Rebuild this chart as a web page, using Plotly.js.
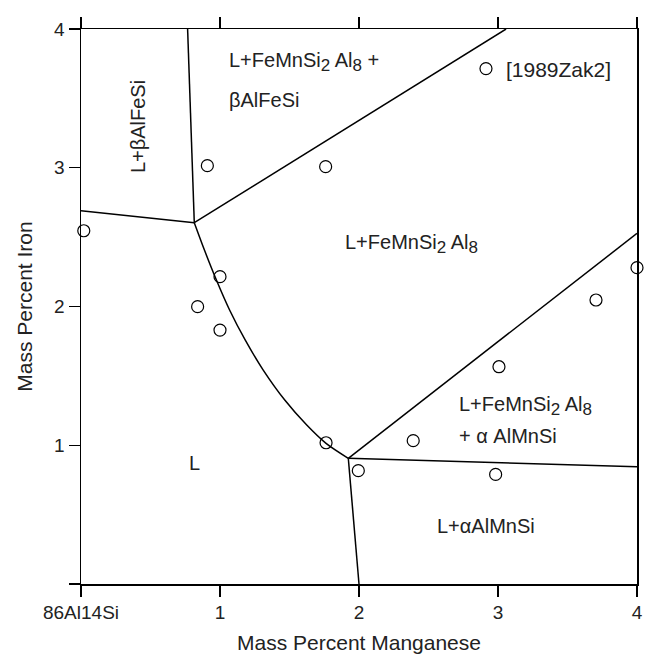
<!DOCTYPE html>
<html>
<head>
<meta charset="utf-8">
<script src="https://cdn.plot.ly/plotly-3.0.1.min.js"></script>
<style>html,body{margin:0;padding:0;background:#fff;}#chart{width:650px;height:654px;}</style>
</head>
<body>
<div id="chart"></div>
<script>
// Experimental points [1989Zak2]
const pointMn = [0.02, 0.909, 1.76, 1.0, 0.839, 1.0, 1.763, 2.39, 1.995, 2.983, 3.007, 3.705, 4.0];
const pointFe = [2.546, 3.015, 3.008, 2.215, 1.999, 1.83, 1.018, 1.033, 0.817, 0.79, 1.566, 2.047, 2.28];

// Phase boundaries
const leftBoundaryMn = [0, 0.815];
const leftBoundaryFe = [2.69, 2.604];
const upperLeftMn = [0.815, 0.767];
const upperLeftFe = [2.604, 4];
const upperRightMn = [0.815, 3.058];
const upperRightFe = [2.604, 4];
const curveMn = [0.815, 0.888, 0.974, 1.069, 1.181, 1.311, 1.466, 1.624, 1.763, 1.923];
const curveFe = [2.604, 2.407, 2.191, 1.975, 1.759, 1.542, 1.326, 1.146, 1.014, 0.906];
const lowerMn = [1.923, 2.0];
const lowerFe = [0.906, 0];
const rightLowMn = [1.923, 4];
const rightLowFe = [0.906, 0.845];
const rightHighMn = [1.923, 4];
const rightHighFe = [0.906, 2.527];

// Axis ticks
const xTickVals = [0, 1, 2, 3, 4];
const xTickText = ['86Al14Si', '1', '2', '3', '4'];
const yTickVals = [0, 1, 2, 3, 4];
const yTickText = ['', '1', '2', '3', '4'];

// Phase field labels
const sub = s => '<sub><span style="font-size:17px">' + s + '</span></sub>';
const labelText = ['L+βAlFeSi', 'L+FeMnSi' + sub('2') + ' Al' + sub('8') + ' +', 'βAlFeSi',
  'L+FeMnSi' + sub('2') + ' Al' + sub('8'),
  'L+FeMnSi' + sub('2') + ' Al' + sub('8'), '+ α AlMnSi', 'L+αAlMnSi', 'L'];
const labelMn = [0.41, 1.05, 1.05, 1.885, 2.705, 2.705, 2.547, 0.813];
const labelFe = [3.30, 3.76, 3.488, 2.45, 1.28, 1.067, 0.418, 0.872];

const lineStyle = {color: '#000', width: 1.5};
function boundary(x, y, shape) {
  return {x: x, y: y, mode: 'lines', type: 'scatter', line: Object.assign({shape: shape || 'linear', smoothing: 0.8}, lineStyle),
    showlegend: false, hoverinfo: 'skip'};
}

const traces = [
  boundary(leftBoundaryMn, leftBoundaryFe),
  boundary(upperLeftMn, upperLeftFe),
  boundary(upperRightMn, upperRightFe),
  boundary(curveMn, curveFe, 'spline'),
  boundary(lowerMn, lowerFe),
  boundary(rightLowMn, rightLowFe),
  boundary(rightHighMn, rightHighFe),
  {x: pointMn, y: pointFe, mode: 'markers', type: 'scatter', name: '[1989Zak2]',
   marker: {symbol: 'circle-open', size: 12, color: '#000', line: {width: 1.2, color: '#000'}},
   cliponaxis: false, showlegend: true}
];

const annFont = {family: 'Liberation Sans, Arial, sans-serif', size: 20, color: '#222'};
const annotations = labelText.map((t, i) => ({
  x: labelMn[i], y: labelFe[i], xref: 'x', yref: 'y', text: t, showarrow: false,
  xanchor: i === 0 || i === 7 ? 'center' : 'left', yanchor: 'middle',
  textangle: i === 0 ? -90 : 0, font: annFont
}));

const layout = {
  width: 650, height: 654,
  margin: {l: 81, r: 13, t: 29, b: 70},
  paper_bgcolor: '#fff', plot_bgcolor: '#fff',
  font: {family: 'Liberation Sans, Arial, sans-serif', size: 19, color: '#222'},
  xaxis: {
    range: [0, 4], tickvals: xTickVals, ticktext: xTickText,
    ticks: 'outside', ticklen: 11, tickwidth: 1.3, tickcolor: '#000',
    showline: true, linecolor: '#000', linewidth: 1.5, mirror: 'ticks',
    showgrid: false, zeroline: false,
    tickfont: {size: 19},
    title: {text: 'Mass Percent Manganese', font: {size: 21}, standoff: 16}
  },
  yaxis: {
    range: [0, 4], tickvals: yTickVals, ticktext: yTickText,
    ticks: 'outside', ticklen: 11, tickwidth: 1.3, tickcolor: '#000',
    showline: true, linecolor: '#000', linewidth: 1.5, mirror: true,
    showgrid: false, zeroline: false,
    tickfont: {size: 19},
    title: {text: 'Mass Percent Iron', font: {size: 21}, standoff: 16}
  },
  legend: {x: 0.6924, y: 0.965, xanchor: 'left', yanchor: 'top', bgcolor: 'rgba(0,0,0,0)', borderwidth: 0,
    font: {family: 'Liberation Sans, Arial, sans-serif', size: 21, color: '#222'}},
  showlegend: true,
  annotations: annotations
};

Plotly.newPlot('chart', traces, layout, {displayModeBar: false, staticPlot: true});
</script>
</body>
</html>
